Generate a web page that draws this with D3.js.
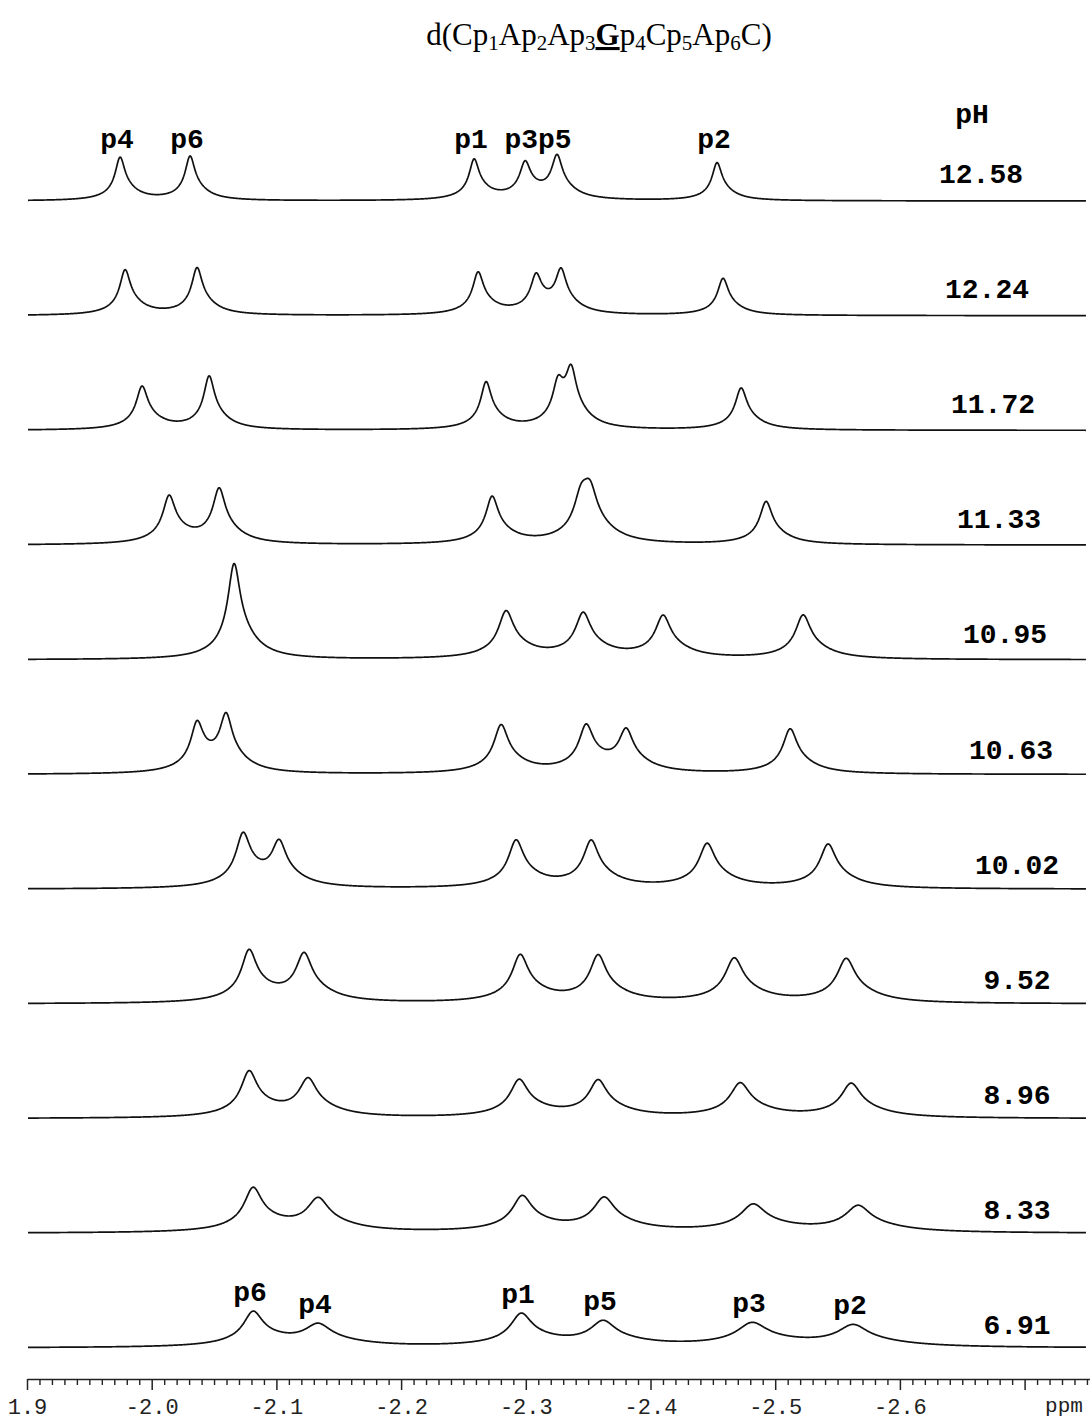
<!DOCTYPE html>
<html><head><meta charset="utf-8">
<script src="https://cdn.jsdelivr.net/npm/d3@7"></script>
<style>body{margin:0;background:#fff} svg{display:block}</style>
</head><body>
<script>
// ---------------- DATA ----------------
const pHValues = ["12.58","12.24","11.72","11.33","10.95","10.63","10.02","9.52","8.96","8.33","6.91"];

// peak chemical shifts (ppm), left to right
const peakShifts = [
  [-1.9746,-2.0307,-2.2585,-2.2994,-2.3250,-2.4533],
  [-1.9786,-2.0363,-2.2617,-2.3082,-2.3282,-2.4581],
  [-1.9922,-2.0460,-2.2681,-2.3258,-2.3363,-2.4726],
  [-2.0139,-2.0540,-2.2729,-2.3443,-2.3515,-2.4926],
  [-2.0660,-2.2841,-2.3459,-2.4100,-2.5223],
  [-2.0363,-2.0596,-2.2801,-2.3483,-2.3804,-2.5119],
  [-2.0732,-2.1021,-2.2921,-2.3523,-2.4453,-2.5423],
  [-2.0780,-2.1221,-2.2954,-2.3579,-2.4670,-2.5568],
  [-2.0780,-2.1253,-2.2946,-2.3579,-2.4718,-2.5608],
  [-2.0812,-2.1334,-2.2970,-2.3627,-2.4822,-2.5664],
  [-2.0812,-2.1334,-2.2962,-2.3619,-2.4814,-2.5624]
];
// peak intensities (arbitrary units)
const peakHeights = [
  [43,44,40,35,42,38],
  [45,47,42,36,41,37],
  [43,53,47,39,51,42],
  [47,54,47,38,41,43],
  [96,47,44,42,44],
  [47,54,48,45,40,45],
  [52,42,47,46,44,44],
  [51,47,47,46,44,44],
  [45,37,37,36,34,34],
  [43,32,35,33,27,26],
  [34,21,32,24,23,21]
];
// half widths at half height (ppm)
const peakWidths = [
  [.0044,.0044,.0044,.0048,.0048,.0044],
  [.0048,.0048,.0048,.0048,.0048,.0048],
  [.0052,.0048,.0048,.0048,.0048,.0052],
  [.0056,.0056,.0056,.0064,.0064,.0056],
  [.0056,.0068,.0068,.0068,.0068],
  [.0056,.0056,.0064,.0064,.0064,.0064],
  [.0064,.0064,.0068,.0068,.0072,.0072],
  [.0068,.0072,.0072,.0072,.0080,.0080],
  [.0072,.0080,.0080,.0080,.0088,.0088],
  [.0080,.0096,.0088,.0096,.0112,.0112],
  [.0088,.0120,.0096,.0112,.0136,.0136]
];
// peak assignment labels: trace index, peak indices, text, aligned row?
const peakLabels = [
  {trace:0, peaks:[0], text:"p4", row:true},
  {trace:0, peaks:[1], text:"p6", row:true},
  {trace:0, peaks:[2], text:"p1", row:true},
  {trace:0, peaks:[3,4], text:"p3p5", row:true},
  {trace:0, peaks:[5], text:"p2", row:true},
  {trace:10, peaks:[0], text:"p6"},
  {trace:10, peaks:[1], text:"p4"},
  {trace:10, peaks:[2], text:"p1"},
  {trace:10, peaks:[3], text:"p5"},
  {trace:10, peaks:[4], text:"p3"},
  {trace:10, peaks:[5], text:"p2"}
];
const axisTicks = [-1.9,-2.0,-2.1,-2.2,-2.3,-2.4,-2.5,-2.6,-2.7];
const axisTickLabels = ["1.9","-2.0","-2.1","-2.2","-2.3","-2.4","-2.5","-2.6",""];
const axisUnit = "ppm";

// ---------------- CHART ----------------
const W = 1090, H = 1420;
const svg = d3.select("body").append("svg").attr("width", W).attr("height", H);

const x = d3.scaleLinear().domain([-1.9, -2.7]).range([27, 1024.6]);
const yBase = d3.scalePoint().domain(pHValues).range([201, 1348]);
const yInt = d3.scaleLinear().domain([0, 100]).range([0, 100]);

// lineshape: narrow lorentzian + broader, slightly upfield-shifted base
const BROAD_W = 0.3, BROAD_G = 3, BROAD_SHIFT = 0.6;
function rawShape(d, g) {
  const a = d / g, b = (d - BROAD_SHIFT * g) / (BROAD_G * g);
  return (1 - BROAD_W) / (1 + a * a) + BROAD_W / (1 + b * b);
}
let norm = 0;
for (let t = -3; t <= 3; t += 0.001) norm = Math.max(norm, rawShape(t, 1));
function intensity(ti, ppm) {
  let s = 0;
  peakShifts[ti].forEach((c, j) => {
    s += peakHeights[ti][j] * rawShape(c - ppm, peakWidths[ti][j]) / norm;
  });
  return s;
}

const grid = d3.range(-1.9008, -2.7495, -0.0004);
const line = d3.line().x(d => x(d.p)).y(d => d.y);

pHValues.forEach((ph, ti) => {
  const pts = grid.map(p => ({p, y: yBase(ph) - yInt(intensity(ti, p))}));
  svg.append("path").datum(pts)
    .attr("d", line).attr("fill", "none")
    .attr("stroke", "#111").attr("stroke-width", 1.7)
    .attr("stroke-linejoin", "round");
});

// pH labels
const labelX = d3.scaleLinear().domain([0, 6]).range([981, 1017]).clamp(true);
const labelDy = d3.scaleLinear().domain([0, 10]).range([-18, -14]);
svg.append("text").attr("x", 972).attr("y", 123)
  .attr("text-anchor", "middle").attr("font-family", "Liberation Mono")
  .attr("font-weight", "bold").attr("font-size", 28).text("pH");
svg.selectAll(".ph").data(pHValues).join("text")
  .attr("x", (d, i) => labelX(i)).attr("y", (d, i) => yBase(d) + labelDy(i))
  .attr("text-anchor", "middle").attr("font-family", "Liberation Mono")
  .attr("font-weight", "bold").attr("font-size", 28).text(d => d);

// peak labels
function peakTop(l) {
  let top = Infinity;
  l.peaks.forEach(k => {
    const p = peakShifts[l.trace][k];
    for (let q = p + 0.004; q >= p - 0.004; q -= 0.0005) {
      top = Math.min(top, yBase(pHValues[l.trace]) - yInt(intensity(l.trace, q)));
    }
  });
  return top;
}
const rowTop = d3.mean(peakLabels.filter(l => l.row), peakTop);
peakLabels.forEach(l => {
  const c = d3.mean(l.peaks, k => peakShifts[l.trace][k]);
  const y = l.row ? rowTop - 10 : peakTop(l) - 10;
  svg.append("text").attr("x", x(c) - 3).attr("y", y)
    .attr("text-anchor", "middle").attr("font-family", "Liberation Mono")
    .attr("font-weight", "bold").attr("font-size", 28).text(l.text);
});

// axis
const xa = x.copy().domain([-1.9, -2.752]).range([x(-1.9), x(-2.752)]);
const axisY = 1379;
const minorTicks = d3.range(0, 86).map(k => +(-1.9 - 0.01 * k).toFixed(2)).filter(v => Math.round(v * 100) % 10 !== 0);
svg.append("g").attr("transform", `translate(0,${axisY})`)
  .call(d3.axisBottom(xa).tickValues(minorTicks).tickSize(6).tickFormat(""))
  .call(g => g.select(".domain").remove())
  .call(g => g.selectAll("line").attr("stroke", "#222").attr("stroke-width", 1.4));
const ax = svg.append("g").attr("transform", `translate(0,${axisY})`)
  .call(d3.axisBottom(xa).tickValues(axisTicks).tickSize(11).tickSizeOuter(0).tickPadding(8)
    .tickFormat((d, i) => axisTickLabels[i]));
ax.select(".domain").attr("stroke", "#222").attr("stroke-width", 1.5);
ax.selectAll("line").attr("stroke", "#222").attr("stroke-width", 1.5);
ax.selectAll("text").attr("font-family", "Liberation Mono").attr("font-size", 22).attr("fill", "#222");
svg.append("text").attr("x", 1064).attr("y", 1412).attr("text-anchor", "middle")
  .attr("font-family", "Liberation Mono").attr("font-size", 21).attr("fill", "#222").text(axisUnit);

// title
const title = svg.append("text").attr("x", 599).attr("y", 45).attr("text-anchor", "middle")
  .attr("font-family", "Liberation Serif").attr("font-size", 31).attr("fill", "#000");
const parts = [["d(Cp"],["1","s"],["Ap"],["2","s"],["Ap"],["3","s"],["G","b"],["p"],["4","s"],["Cp"],["5","s"],["Ap"],["6","s"],["C)"]];
let shifted = false;
parts.forEach(([t, k]) => {
  const ts = title.append("tspan").text(t);
  if (k === "s") { ts.attr("font-size", 21).attr("dy", shifted ? 0 : 5); shifted = true; }
  else { if (shifted) ts.attr("dy", -5); shifted = false; }
  if (k === "b") ts.attr("font-weight", "bold").style("text-decoration", "underline");
});
</script>
</body></html>
